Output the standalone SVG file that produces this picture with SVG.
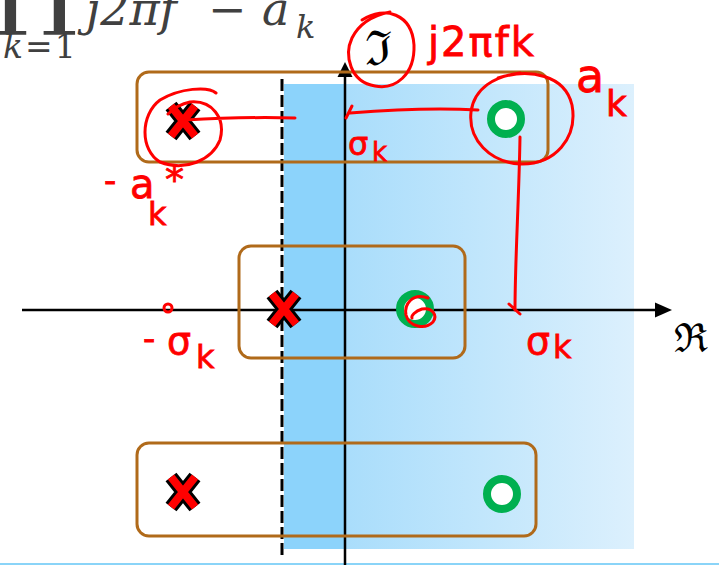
<svg xmlns="http://www.w3.org/2000/svg" width="719" height="565" viewBox="0 0 719 565">
<style>
.box{fill:none;stroke:#b06a1a;stroke-width:3}
.ax{stroke:#000;stroke-width:2.5;fill:none}
.ink{fill:none;stroke:#ff0000;stroke-width:3;stroke-linecap:round;stroke-linejoin:round}
.hw{fill:#ff0000;font-family:"DejaVu Sans",sans-serif;stroke:#ff0000;stroke-width:0.8}
.xo{stroke:#000;stroke-width:14}
.xi{stroke:#ff0000;stroke-width:8}
.zero{fill:#fff;stroke:#00b050;stroke-width:8}
.math{fill:#404040;font-family:"DejaVu Serif","Liberation Serif",serif}
</style>
<defs>
<linearGradient id="g" x1="0" x2="1" y1="0" y2="0">
<stop offset="0" stop-color="#a9ddfb"/>
<stop offset="1" stop-color="#dcf0fd"/>
</linearGradient>
<g id="xm"><path class="xo" d="M-12,-15L12,15M12,-15L-12,15"/><path class="xi" d="M-12,-15L12,15M12,-15L-12,15"/></g>
</defs>
<rect width="719" height="565" fill="#fff"/>
<line x1="0" y1="564" x2="719" y2="564" stroke="#8ad4f8" stroke-width="2"/>
<g id="title">
<text class="math" x="-8" y="14" font-size="108">∏</text>
<text class="math" x="3" y="58" font-size="33" font-style="italic" letter-spacing="2">k<tspan font-style="normal">=1</tspan></text>
<text class="math" x="86" y="25" font-size="46" font-style="italic">j2πf</text>
<text class="math" x="208" y="25" font-size="46">−</text>
<text class="math" x="262" y="25" font-size="46" font-style="italic">a</text>
<text class="math" x="296" y="38" font-size="32" font-style="italic">k</text>
</g>
<g id="stable-region">
<rect x="284" y="84" width="61" height="465" fill="#8cd3fb"/>
<rect x="345" y="84" width="289" height="465" fill="url(#g)"/>
</g>
<g id="connectors">
<line class="ax" x1="22" y1="310" x2="658" y2="310"/>
<path d="M672,310L655,302.5L655,317.5Z" fill="#000"/>
<line class="ax" x1="345" y1="76" x2="345" y2="565"/>
<path d="M345,62L337.5,77L352.5,77Z" fill="#000"/>
<line x1="282" y1="79" x2="282" y2="556" stroke="#000" stroke-width="3" stroke-dasharray="12 4"/>
</g>
<g id="axis-labels">
<text x="674" y="352" font-size="40" font-family="DejaVu Serif,serif" fill="#000">ℜ</text>
<text x="365" y="65" font-size="48" font-family="DejaVu Serif,serif" fill="#000">ℑ</text>
</g>
<g id="pair-top">
<rect class="box" x="137" y="72" width="411" height="90" rx="12"/>
<use href="#xm" x="183" y="121"/>
<circle class="zero" cx="506" cy="119" r="15"/>
</g>
<g id="pair-middle">
<rect class="box" x="239" y="246" width="226" height="112" rx="12"/>
<use href="#xm" x="284" y="309"/>
<circle class="zero" cx="415" cy="309" r="15"/>
</g>
<g id="pair-bottom">
<rect class="box" x="137" y="443" width="399" height="93" rx="12"/>
<use href="#xm" x="183" y="492"/>
<circle class="zero" cx="502" cy="494" r="15"/>
</g>
<g id="annotations">
<path class="ink" d="M362,20C385,5 412,14 414,45C415,75 395,90 375,86C350,82 344,55 352,38C360,22 375,15 390,12"/>
<text class="hw" x="428" y="56" font-size="40" letter-spacing="2">j2πfk</text>
<path class="ink" d="M498,78C530,68 565,75 572,105C578,138 555,165 520,164C490,162 468,140 471,112C474,88 495,76 520,73"/>
<text class="hw" x="576" y="92" font-size="46">a</text>
<text class="hw" x="606" y="116" font-size="36">k</text>
<path class="ink" d="M478,110C440,108 400,109 350,113M352,106L346,118"/>
<path class="ink" d="M520,137C519,200 515,260 515,310M509,304L520,314"/>
<text class="hw" x="526" y="354" font-size="38">σ</text>
<text class="hw" x="553" y="358" font-size="32">k</text>
<text class="hw" x="348" y="155" font-size="32">σ</text>
<text class="hw" x="372" y="161" font-size="26">k</text>
<path class="ink" d="M216,93C208,86 180,88 160,100C140,115 140,150 160,162C185,172 212,160 220,140C226,118 212,100 190,102C180,104 172,110 168,114M185,120C220,118 260,117 295,118"/>
<text class="hw" x="104" y="192" font-size="34">-</text>
<text class="hw" x="130" y="198" font-size="40">a</text>
<text class="hw" x="165" y="193" font-size="38">*</text>
<text class="hw" x="148" y="225" font-size="32">k</text>
<circle class="ink" cx="168" cy="308" r="4"/>
<text class="hw" x="143" y="350" font-size="34">-</text>
<text class="hw" x="167" y="354" font-size="38">σ</text>
<text class="hw" x="196" y="368" font-size="32">k</text>
<path class="ink" d="M428,298C412,292 404,305 406,315C409,327 425,330 433,322C438,315 432,307 422,309C415,311 411,316 412,318"/>
</g>
</svg>
